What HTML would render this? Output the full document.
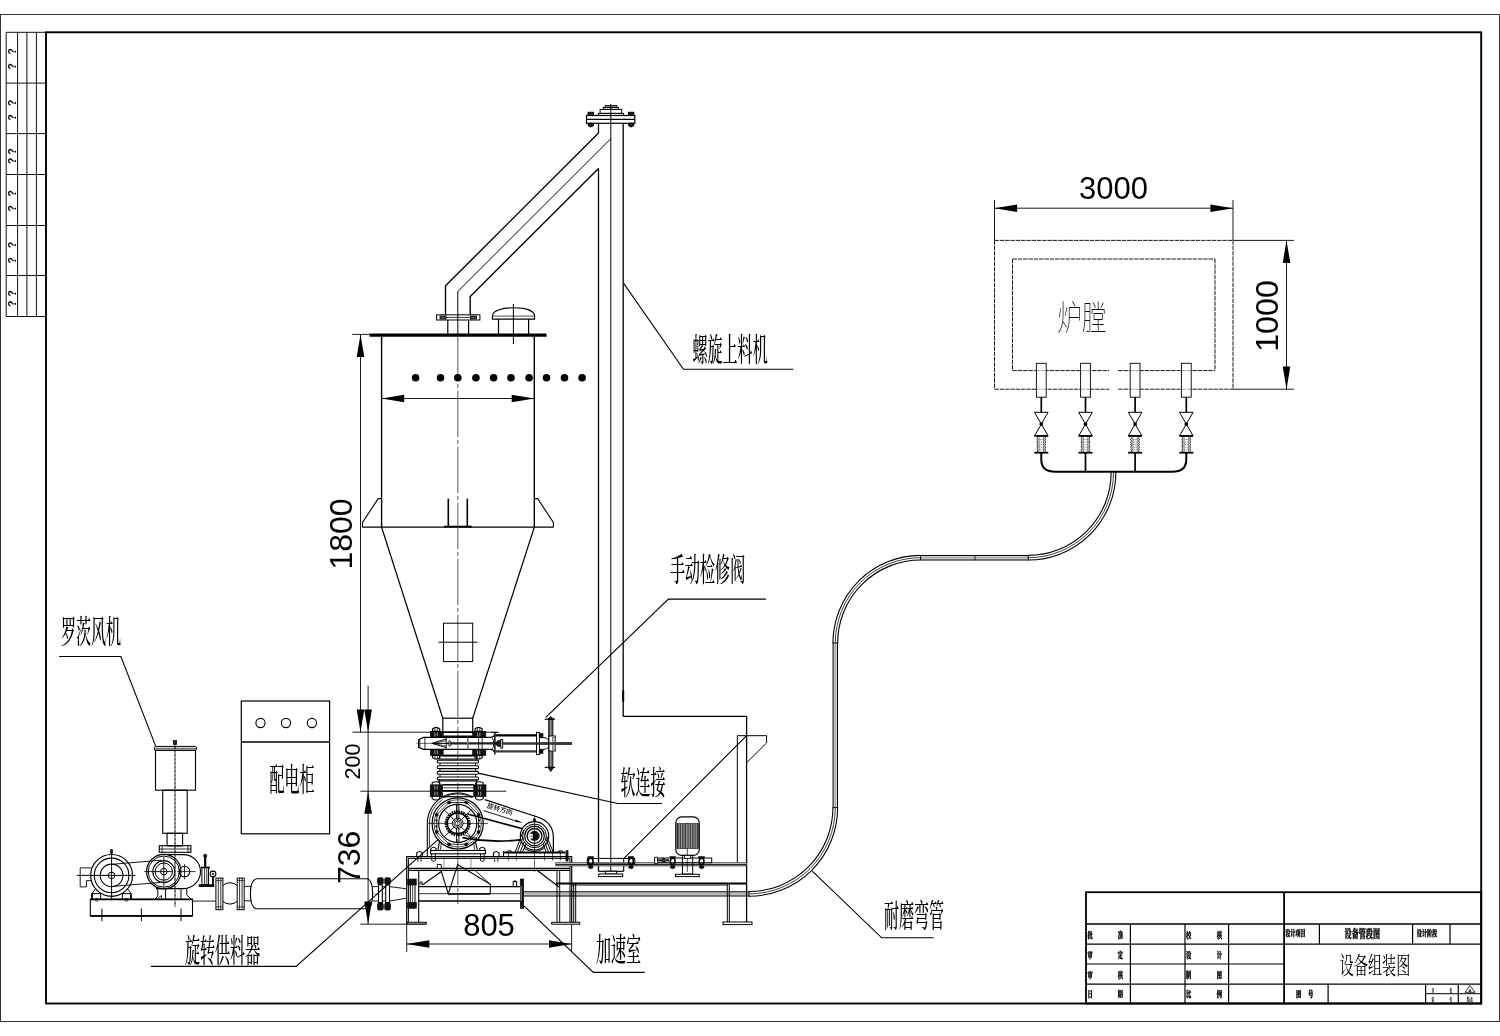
<!DOCTYPE html>
<html lang="zh"><head><meta charset="utf-8"><title>设备组装图</title>
<style>html,body{margin:0;padding:0;background:#fff}svg{display:block;will-change:transform}</style></head>
<body><svg width="1500" height="1036" viewBox="0 0 1500 1036">
<rect x="0" y="0" width="1500" height="1036" fill="#fff"/>
<g id="pipe">
<path d="M523.7,893.9 L749,893.9" fill="none" stroke="#000" stroke-width="5.4"/>
<path d="M523.7,893.9 L749,893.9" fill="none" stroke="#d4d4d4" stroke-width="3.4"/>
<path d="M523.7,893.9 L749,893.9" fill="none" stroke="#777" stroke-width="0.6"/>
<path d="M749,893.9 A86.3,86.3 0 0 0 835.3,807.6" fill="none" stroke="#000" stroke-width="5.8"/>
<path d="M749,893.9 A86.3,86.3 0 0 0 835.3,807.6" fill="none" stroke="#fff" stroke-width="3.6"/>
<path d="M749,893.9 A86.3,86.3 0 0 0 835.3,807.6" fill="none" stroke="#111" stroke-width="0.8"/>
<path d="M835.3,807.6 L835.3,643" fill="none" stroke="#000" stroke-width="5.4"/>
<path d="M835.3,807.6 L835.3,643" fill="none" stroke="#d4d4d4" stroke-width="3.4"/>
<path d="M835.3,807.6 L835.3,643" fill="none" stroke="#777" stroke-width="0.6"/>
<path d="M835.3,643 A85.3,85.3 0 0 1 920.6,557.7" fill="none" stroke="#000" stroke-width="5.8"/>
<path d="M835.3,643 A85.3,85.3 0 0 1 920.6,557.7" fill="none" stroke="#fff" stroke-width="3.6"/>
<path d="M835.3,643 A85.3,85.3 0 0 1 920.6,557.7" fill="none" stroke="#111" stroke-width="0.8"/>
<path d="M920.6,557.7 L1028.2,557.7" fill="none" stroke="#000" stroke-width="5.4"/>
<path d="M920.6,557.7 L1028.2,557.7" fill="none" stroke="#d4d4d4" stroke-width="3.4"/>
<path d="M920.6,557.7 L1028.2,557.7" fill="none" stroke="#777" stroke-width="0.6"/>
<line x1="975.0" y1="555.0" x2="975.0" y2="560.4" stroke="#000" stroke-width="0.8" />
<path d="M1028.2,557.7 A85.3,85.3 0 0 0 1113.5,472.4" fill="none" stroke="#000" stroke-width="5.8"/>
<path d="M1028.2,557.7 A85.3,85.3 0 0 0 1113.5,472.4" fill="none" stroke="#fff" stroke-width="3.6"/>
<path d="M1028.2,557.7 A85.3,85.3 0 0 0 1113.5,472.4" fill="none" stroke="#111" stroke-width="0.8"/>
<line x1="832.5" y1="807.6" x2="838.1" y2="807.6" stroke="#000" stroke-width="0.9" />
<line x1="832.5" y1="643.0" x2="838.1" y2="643.0" stroke="#000" stroke-width="0.9" />
<line x1="920.6" y1="555.0" x2="920.6" y2="560.4" stroke="#000" stroke-width="0.9" />
<line x1="1028.2" y1="555.0" x2="1028.2" y2="560.4" stroke="#000" stroke-width="0.9" />
<line x1="749.0" y1="891.2" x2="749.0" y2="896.6" stroke="#000" stroke-width="0.9" />
</g>
<g id="frame">
<rect x="0.5" y="14.5" width="1499.0" height="1007.0" stroke="#333" stroke-width="1" fill="none" />
<rect x="46.0" y="32.3" width="1435.2" height="971.2" stroke="#000" stroke-width="1.9" fill="none" />
<line x1="6.2" y1="32.3" x2="6.2" y2="316.5" stroke="#111" stroke-width="1" />
<line x1="17.6" y1="32.3" x2="17.6" y2="316.5" stroke="#111" stroke-width="1" />
<line x1="26.9" y1="32.3" x2="26.9" y2="316.5" stroke="#111" stroke-width="1" />
<line x1="36.4" y1="32.3" x2="36.4" y2="316.5" stroke="#111" stroke-width="1" />
<line x1="6.2" y1="83.1" x2="46.0" y2="83.1" stroke="#111" stroke-width="1" />
<line x1="6.2" y1="133.6" x2="46.0" y2="133.6" stroke="#111" stroke-width="1" />
<line x1="6.2" y1="174.5" x2="46.0" y2="174.5" stroke="#111" stroke-width="1" />
<line x1="6.2" y1="225.5" x2="46.0" y2="225.5" stroke="#111" stroke-width="1" />
<line x1="6.2" y1="275.5" x2="46.0" y2="275.5" stroke="#111" stroke-width="1" />
<line x1="6.2" y1="316.5" x2="46.0" y2="316.5" stroke="#111" stroke-width="1" />
<line x1="6.2" y1="32.3" x2="46.0" y2="32.3" stroke="#111" stroke-width="1" />
<text transform="translate(15.6,51.3) rotate(-90)" font-family='"Liberation Sans", "Noto Sans CJK SC", sans-serif' font-size="11" font-weight="700" text-anchor="middle" fill="#000" >?</text>
<text transform="translate(15.6,66.3) rotate(-90)" font-family='"Liberation Sans", "Noto Sans CJK SC", sans-serif' font-size="11" font-weight="700" text-anchor="middle" fill="#000" >?</text>
<text transform="translate(15.6,103.0) rotate(-90)" font-family='"Liberation Sans", "Noto Sans CJK SC", sans-serif' font-size="11" font-weight="700" text-anchor="middle" fill="#000" >?</text>
<text transform="translate(15.6,117.5) rotate(-90)" font-family='"Liberation Sans", "Noto Sans CJK SC", sans-serif' font-size="11" font-weight="700" text-anchor="middle" fill="#000" >?</text>
<text transform="translate(15.6,151.5) rotate(-90)" font-family='"Liberation Sans", "Noto Sans CJK SC", sans-serif' font-size="11" font-weight="700" text-anchor="middle" fill="#000" >?</text>
<text transform="translate(15.6,161.0) rotate(-90)" font-family='"Liberation Sans", "Noto Sans CJK SC", sans-serif' font-size="11" font-weight="700" text-anchor="middle" fill="#000" >?</text>
<text transform="translate(15.6,193.3) rotate(-90)" font-family='"Liberation Sans", "Noto Sans CJK SC", sans-serif' font-size="11" font-weight="700" text-anchor="middle" fill="#000" >?</text>
<text transform="translate(15.6,208.3) rotate(-90)" font-family='"Liberation Sans", "Noto Sans CJK SC", sans-serif' font-size="11" font-weight="700" text-anchor="middle" fill="#000" >?</text>
<text transform="translate(15.6,244.9) rotate(-90)" font-family='"Liberation Sans", "Noto Sans CJK SC", sans-serif' font-size="11" font-weight="700" text-anchor="middle" fill="#000" >?</text>
<text transform="translate(15.6,260.3) rotate(-90)" font-family='"Liberation Sans", "Noto Sans CJK SC", sans-serif' font-size="11" font-weight="700" text-anchor="middle" fill="#000" >?</text>
<text transform="translate(15.6,293.3) rotate(-90)" font-family='"Liberation Sans", "Noto Sans CJK SC", sans-serif' font-size="11" font-weight="700" text-anchor="middle" fill="#000" >?</text>
<text transform="translate(15.6,303.7) rotate(-90)" font-family='"Liberation Sans", "Noto Sans CJK SC", sans-serif' font-size="11" font-weight="700" text-anchor="middle" fill="#000" >?</text>
</g>
<g id="title">
<rect x="1086.0" y="892.2" width="395.2" height="111.3" stroke="#000" stroke-width="1.8" fill="none" />
<line x1="1284.1" y1="892.2" x2="1284.1" y2="1003.5" stroke="#000" stroke-width="1.8" />
<line x1="1086.0" y1="924.0" x2="1481.2" y2="924.0" stroke="#000" stroke-width="1.4" />
<line x1="1086.0" y1="944.1" x2="1284.1" y2="944.1" stroke="#000" stroke-width="1.2" />
<line x1="1086.0" y1="964.0" x2="1284.1" y2="964.0" stroke="#000" stroke-width="1.2" />
<line x1="1086.0" y1="984.1" x2="1284.1" y2="984.1" stroke="#000" stroke-width="1.2" />
<line x1="1284.1" y1="944.1" x2="1481.2" y2="944.1" stroke="#000" stroke-width="1.2" />
<line x1="1284.1" y1="984.1" x2="1481.2" y2="984.1" stroke="#000" stroke-width="1.2" />
<line x1="1130.4" y1="924.0" x2="1130.4" y2="1003.5" stroke="#000" stroke-width="1.2" />
<line x1="1185.0" y1="924.0" x2="1185.0" y2="1003.5" stroke="#000" stroke-width="1.2" />
<line x1="1228.6" y1="924.0" x2="1228.6" y2="1003.5" stroke="#000" stroke-width="1.2" />
<line x1="1319.4" y1="924.0" x2="1319.4" y2="944.1" stroke="#000" stroke-width="1.2" />
<line x1="1412.6" y1="924.0" x2="1412.6" y2="944.1" stroke="#000" stroke-width="1.2" />
<line x1="1450.0" y1="924.0" x2="1450.0" y2="944.1" stroke="#000" stroke-width="1.2" />
<line x1="1328.1" y1="984.1" x2="1328.1" y2="1003.5" stroke="#000" stroke-width="1.2" />
<line x1="1425.6" y1="984.1" x2="1425.6" y2="1003.5" stroke="#000" stroke-width="1.2" />
<line x1="1458.3" y1="984.1" x2="1458.3" y2="1003.5" stroke="#000" stroke-width="1.2" />
<line x1="1425.6" y1="993.7" x2="1481.2" y2="993.7" stroke="#000" stroke-width="1" />
<text transform="translate(1087.4,937.7) scale(0.62,1)" font-family='"Liberation Serif", "Noto Serif CJK SC", serif' font-size="8.5" font-weight="900" text-anchor="start" fill="#000" stroke="#000" stroke-width="0.35" letter-spacing="40.3">批准</text>
<text transform="translate(1186.1,937.7) scale(0.62,1)" font-family='"Liberation Serif", "Noto Serif CJK SC", serif' font-size="8.5" font-weight="900" text-anchor="start" fill="#000" stroke="#000" stroke-width="0.35" letter-spacing="40.9">校核</text>
<text transform="translate(1087.4,957.7) scale(0.62,1)" font-family='"Liberation Serif", "Noto Serif CJK SC", serif' font-size="8.5" font-weight="900" text-anchor="start" fill="#000" stroke="#000" stroke-width="0.35" letter-spacing="40.3">审定</text>
<text transform="translate(1186.1,957.7) scale(0.62,1)" font-family='"Liberation Serif", "Noto Serif CJK SC", serif' font-size="8.5" font-weight="900" text-anchor="start" fill="#000" stroke="#000" stroke-width="0.35" letter-spacing="40.9">设计</text>
<text transform="translate(1087.4,977.5) scale(0.62,1)" font-family='"Liberation Serif", "Noto Serif CJK SC", serif' font-size="8.5" font-weight="900" text-anchor="start" fill="#000" stroke="#000" stroke-width="0.35" letter-spacing="40.3">审核</text>
<text transform="translate(1186.1,977.5) scale(0.62,1)" font-family='"Liberation Serif", "Noto Serif CJK SC", serif' font-size="8.5" font-weight="900" text-anchor="start" fill="#000" stroke="#000" stroke-width="0.35" letter-spacing="40.9">制图</text>
<text transform="translate(1087.4,997.2) scale(0.62,1)" font-family='"Liberation Serif", "Noto Serif CJK SC", serif' font-size="8.5" font-weight="900" text-anchor="start" fill="#000" stroke="#000" stroke-width="0.35" letter-spacing="40.3">日期</text>
<text transform="translate(1186.1,997.2) scale(0.62,1)" font-family='"Liberation Serif", "Noto Serif CJK SC", serif' font-size="8.5" font-weight="900" text-anchor="start" fill="#000" stroke="#000" stroke-width="0.35" letter-spacing="40.9">比例</text>
<text transform="translate(1295.5,936.3) scale(0.6,1)" font-family='"Liberation Serif", "Noto Serif CJK SC", serif' font-size="8.5" font-weight="900" text-anchor="middle" fill="#000" stroke="#000" stroke-width="0.35">设计项目</text>
<text transform="translate(1362.3,938.0) scale(0.62,1)" font-family='"Liberation Serif", "Noto Serif CJK SC", serif' font-size="11.5" font-weight="900" text-anchor="middle" fill="#000" stroke="#000" stroke-width="0.35">设备管段图</text>
<text transform="translate(1427.0,936.3) scale(0.6,1)" font-family='"Liberation Serif", "Noto Serif CJK SC", serif' font-size="8.5" font-weight="900" text-anchor="middle" fill="#000" stroke="#000" stroke-width="0.35">设计阶段</text>
<text transform="translate(1375.0,973.5) scale(0.6,1)" font-family='"Liberation Serif", "Noto Serif CJK SC", serif' font-size="23.5" font-weight="400" text-anchor="middle" fill="#000" >设备组装图</text>
<text transform="translate(1295.9,997.0) scale(0.62,1)" font-family='"Liberation Serif", "Noto Serif CJK SC", serif' font-size="8.5" font-weight="900" text-anchor="start" fill="#000" stroke="#000" stroke-width="0.35" letter-spacing="10.9">图号</text>
<text transform="translate(1431.6,991.5) scale(0.6,1)" font-family='"Liberation Serif", "Noto Serif CJK SC", serif' font-size="4.5" font-weight="900" text-anchor="start" fill="#000" letter-spacing="25.5">共张</text>
<text transform="translate(1431.6,1001.0) scale(0.6,1)" font-family='"Liberation Serif", "Noto Serif CJK SC", serif' font-size="4.5" font-weight="900" text-anchor="start" fill="#000" letter-spacing="25.5">第张</text>
<text transform="translate(1470.0,1001.0) scale(0.7,1)" font-family='"Liberation Serif", "Noto Serif CJK SC", serif' font-size="4.5" font-weight="900" text-anchor="middle" fill="#000" >版次</text>
<path d="M1465.0,992.3 L1475.0,992.3 L1470.0,985.6 Z" stroke="#000" stroke-width="0.8" fill="none" />
<text transform="translate(1470.0,991.6)" font-family='"Liberation Sans", "Noto Sans CJK SC", sans-serif' font-size="4" font-weight="700" text-anchor="middle" fill="#000" >A</text>
</g>
<g id="screw">
<rect x="586.5" y="115.5" width="48.3" height="7.8" stroke="#000" stroke-width="1.2" fill="none" />
<line x1="586.5" y1="119.3" x2="634.8" y2="119.3" stroke="#000" stroke-width="1.2" />
<rect x="588.1" y="112.3" width="5.4" height="3.2" stroke="#000" stroke-width="1" fill="#222" />
<path d="M588.1,123.3 L588.1,125.5 Q590.8000000000001,128.5 593.5,125.5 L593.5,123.3 Z" stroke="#000" stroke-width="1" fill="#222" />
<rect x="628.4" y="112.3" width="5.4" height="3.2" stroke="#000" stroke-width="1" fill="#222" />
<path d="M628.4,123.3 L628.4,125.5 Q631.1,128.5 633.8,125.5 L633.8,123.3 Z" stroke="#000" stroke-width="1" fill="#222" />
<rect x="598.3" y="113.4" width="25.3" height="2.1" stroke="#000" stroke-width="1" fill="none" />
<rect x="600.1" y="109.4" width="21.6" height="4.0" stroke="#000" stroke-width="1" fill="none" />
<rect x="603.3" y="107.4" width="15.2" height="2.0" stroke="#000" stroke-width="1" fill="none" />
<rect x="605.2" y="105.4" width="11.5" height="2.0" stroke="#000" stroke-width="0.8" fill="#888" />
<line x1="598.5" y1="123.3" x2="598.5" y2="133.0" stroke="#000" stroke-width="1.3" />
<line x1="598.5" y1="168.4" x2="598.5" y2="871.3" stroke="#000" stroke-width="1.3" />
<line x1="623.2" y1="123.3" x2="623.2" y2="716.4" stroke="#000" stroke-width="1.3" />
<line x1="610.8" y1="104.0" x2="610.8" y2="871.3" stroke="#000" stroke-width="1.0" />
<line x1="623.2" y1="690.0" x2="623.2" y2="702.0" stroke="#000" stroke-width="2" />
<path d="M598.5,133.0 L445.5,285.8 L445.5,314.8" stroke="#000" stroke-width="1.4" fill="none" />
<path d="M610.8,138.7 L457.8,291.5 L457.8,335.0" stroke="#000" stroke-width="1.0" fill="none" />
<path d="M598.5,168.4 L470.2,296.5 L470.2,314.8" stroke="#000" stroke-width="1.4" fill="none" />
<rect x="436.6" y="314.8" width="43.3" height="5.2" stroke="#000" stroke-width="1" fill="none" />
<rect x="440.0" y="316.0" width="6.0" height="3.0" stroke="#000" stroke-width="0.8" fill="#555" />
<rect x="470.5" y="316.0" width="6.0" height="3.0" stroke="#000" stroke-width="0.8" fill="#555" />
<line x1="446.0" y1="317.4" x2="470.5" y2="317.4" stroke="#000" stroke-width="0.8" />
<line x1="447.8" y1="320.0" x2="447.8" y2="335.0" stroke="#000" stroke-width="1.2" />
<line x1="468.6" y1="320.0" x2="468.6" y2="335.0" stroke="#000" stroke-width="1.2" />
<path d="M492.4,319.1 L492.4,316 C492.6,310 503,307.8 513.4,307.8 C524,307.8 534.4,310 534.6,316 L534.6,319.1 Z" stroke="#000" stroke-width="1.1" fill="none" />
<line x1="492.4" y1="316.1" x2="534.6" y2="316.1" stroke="#000" stroke-width="0.7" />
<line x1="498.5" y1="319.1" x2="498.5" y2="335.0" stroke="#000" stroke-width="1.2" />
<line x1="528.6" y1="319.1" x2="528.6" y2="335.0" stroke="#000" stroke-width="1.2" />
<line x1="513.4" y1="304.0" x2="513.4" y2="344.0" stroke="#000" stroke-width="1.0" />
</g>
<g id="tank">
<line x1="369.5" y1="335.1" x2="546.5" y2="335.1" stroke="#000" stroke-width="3.3" />
<line x1="381.6" y1="335.3" x2="381.6" y2="527.3" stroke="#000" stroke-width="1.4" />
<line x1="534.3" y1="335.3" x2="534.3" y2="527.3" stroke="#000" stroke-width="1.4" />
<line x1="362.5" y1="527.2" x2="553.4" y2="527.2" stroke="#000" stroke-width="1.2" />
<path d="M381.6,498.6 L378.2,498.6 L362.5,522.5 L362.5,527.2" stroke="#000" stroke-width="1.1" fill="none" />
<path d="M534.3,498.6 L537.7,498.6 L553.4,522.5 L553.4,527.2" stroke="#000" stroke-width="1.1" fill="none" />
<line x1="448.3" y1="498.6" x2="448.3" y2="527.2" stroke="#000" stroke-width="1.6" />
<line x1="467.3" y1="498.6" x2="467.3" y2="527.2" stroke="#000" stroke-width="1.6" />
<line x1="443.9" y1="526.6" x2="471.7" y2="526.6" stroke="#000" stroke-width="1.8" />
<line x1="381.6" y1="527.2" x2="442.8" y2="718.2" stroke="#000" stroke-width="1.2" />
<line x1="534.3" y1="527.2" x2="472.7" y2="718.2" stroke="#000" stroke-width="1.2" />
<rect x="442.8" y="718.2" width="29.9" height="14.1" stroke="#000" stroke-width="1.2" fill="none" />
<line x1="457.8" y1="335.0" x2="457.8" y2="904.0" stroke="#333" stroke-width="0.8" stroke-dasharray="46 3 4 3"/>
<rect x="443.5" y="623.2" width="29.2" height="38.4" stroke="#000" stroke-width="1" fill="none" />
<line x1="438.4" y1="642.2" x2="477.6" y2="642.2" stroke="#000" stroke-width="1.0" />
<circle cx="415.6" cy="377.8" r="3.8" stroke="#000" stroke-width="0" fill="#000" />
<circle cx="440.5" cy="377.8" r="3.8" stroke="#000" stroke-width="0" fill="#000" />
<circle cx="457.8" cy="377.8" r="3.8" stroke="#000" stroke-width="0" fill="#000" />
<circle cx="475.9" cy="377.8" r="3.8" stroke="#000" stroke-width="0" fill="#000" />
<circle cx="493.6" cy="377.8" r="3.8" stroke="#000" stroke-width="0" fill="#000" />
<circle cx="511.0" cy="377.8" r="3.8" stroke="#000" stroke-width="0" fill="#000" />
<circle cx="529.1" cy="377.8" r="3.8" stroke="#000" stroke-width="0" fill="#000" />
<circle cx="546.5" cy="377.8" r="3.8" stroke="#000" stroke-width="0" fill="#000" />
<circle cx="564.5" cy="377.8" r="3.8" stroke="#000" stroke-width="0" fill="#000" />
<circle cx="582.1" cy="377.8" r="3.8" stroke="#000" stroke-width="0" fill="#000" />
<line x1="381.6" y1="398.5" x2="534.3" y2="398.5" stroke="#000" stroke-width="0.9" />
<path d="M381.6,398.5 L404.2,394.7 L404.2,402.3 Z" fill="#000" stroke="none"/>
<path d="M534.3,398.5 L511.7,402.3 L511.7,394.7 Z" fill="#000" stroke="none"/>
</g>
<g id="dims">
<line x1="352.2" y1="334.4" x2="369.5" y2="334.4" stroke="#000" stroke-width="0.9" />
<line x1="360.5" y1="334.5" x2="360.5" y2="732.2" stroke="#000" stroke-width="0.9" />
<path d="M360.5,334.5 L364.3,357.1 L356.7,357.1 Z" fill="#000" stroke="none"/>
<path d="M360.5,732.2 L356.7,709.6 L364.3,709.6 Z" fill="#000" stroke="none"/>
<text transform="translate(352.4,534.0) rotate(-90)" font-family='"Liberation Sans", sans-serif' font-size="32" font-weight="400" text-anchor="middle" fill="#000" >1800</text>
<line x1="352.6" y1="732.2" x2="497.8" y2="732.2" stroke="#000" stroke-width="0.9" />
<line x1="360.3" y1="791.2" x2="506.3" y2="791.2" stroke="#000" stroke-width="0.9" />
<line x1="368.1" y1="685.7" x2="368.1" y2="924.0" stroke="#000" stroke-width="0.9" />
<path d="M368.1,732.2 L364.3,709.6 L371.9,709.6 Z" fill="#000" stroke="none"/>
<path d="M368.1,791.2 L371.9,813.8 L364.3,813.8 Z" fill="#000" stroke="none"/>
<path d="M368.1,924.0 L364.3,901.4 L371.9,901.4 Z" fill="#000" stroke="none"/>
<text transform="translate(360.3,761.5) rotate(-90)" font-family='"Liberation Sans", sans-serif' font-size="21.5" font-weight="400" text-anchor="middle" fill="#000" >200</text>
<text transform="translate(359.8,857.4) rotate(-90)" font-family='"Liberation Sans", sans-serif' font-size="32" font-weight="400" text-anchor="middle" fill="#000" >736</text>
<line x1="360.4" y1="924.2" x2="426.0" y2="924.2" stroke="#000" stroke-width="0.9" />
<line x1="406.7" y1="924.0" x2="406.7" y2="952.0" stroke="#000" stroke-width="0.9" />
<line x1="571.6" y1="924.0" x2="571.6" y2="952.0" stroke="#000" stroke-width="0.9" />
<line x1="406.7" y1="944.0" x2="571.6" y2="944.0" stroke="#000" stroke-width="0.9" />
<path d="M406.7,944.0 L429.3,940.2 L429.3,947.8 Z" fill="#000" stroke="none"/>
<path d="M571.6,944.0 L549.0,947.8 L549.0,940.2 Z" fill="#000" stroke="none"/>
<text transform="translate(489.0,935.8)" font-family='"Liberation Sans", sans-serif' font-size="31" font-weight="400" text-anchor="middle" fill="#000" >805</text>
</g>
<g id="valve">
<line x1="430.0" y1="732.3" x2="486.0" y2="732.3" stroke="#000" stroke-width="1.5" />
<line x1="443.0" y1="736.5" x2="472.8" y2="736.5" stroke="#000" stroke-width="2" />
<rect x="430.3" y="731.4" width="12.9" height="6.0" stroke="#000" stroke-width="0.6" fill="#111" />
<rect x="430.3" y="749.4" width="12.9" height="6.0" stroke="#000" stroke-width="0.6" fill="#111" />
<line x1="434.9" y1="732.6" x2="434.9" y2="736.6" stroke="#fff" stroke-width="0.6" />
<line x1="437.3" y1="732.6" x2="437.3" y2="736.6" stroke="#fff" stroke-width="0.6" />
<line x1="434.9" y1="750.4" x2="434.9" y2="754.4" stroke="#fff" stroke-width="0.6" />
<line x1="437.3" y1="750.4" x2="437.3" y2="754.4" stroke="#fff" stroke-width="0.6" />
<path d="M432.54999999999995,731.4 L432.54999999999995,729 Q436.15,725.8 439.75,729 L439.75,731.4 Z" stroke="#000" stroke-width="1.2" fill="#fff" />
<line x1="434.9" y1="727.6" x2="434.9" y2="731.4" stroke="#000" stroke-width="0.8" />
<line x1="437.3" y1="727.6" x2="437.3" y2="731.4" stroke="#000" stroke-width="0.8" />
<path d="M432.54999999999995,755.4 L432.54999999999995,757.6 Q436.15,760.6 439.75,757.6 L439.75,755.4 Z" stroke="#000" stroke-width="1.2" fill="#fff" />
<line x1="434.9" y1="755.4" x2="434.9" y2="758.8" stroke="#000" stroke-width="0.8" />
<line x1="437.3" y1="755.4" x2="437.3" y2="758.8" stroke="#000" stroke-width="0.8" />
<rect x="472.6" y="731.4" width="13.2" height="6.0" stroke="#000" stroke-width="0.6" fill="#111" />
<rect x="472.6" y="749.4" width="13.2" height="6.0" stroke="#000" stroke-width="0.6" fill="#111" />
<line x1="477.4" y1="732.6" x2="477.4" y2="736.6" stroke="#fff" stroke-width="0.6" />
<line x1="479.8" y1="732.6" x2="479.8" y2="736.6" stroke="#fff" stroke-width="0.6" />
<line x1="477.4" y1="750.4" x2="477.4" y2="754.4" stroke="#fff" stroke-width="0.6" />
<line x1="479.8" y1="750.4" x2="479.8" y2="754.4" stroke="#fff" stroke-width="0.6" />
<path d="M475.0,731.4 L475.0,729 Q478.6,725.8 482.20000000000005,729 L482.20000000000005,731.4 Z" stroke="#000" stroke-width="1.2" fill="#fff" />
<line x1="477.4" y1="727.6" x2="477.4" y2="731.4" stroke="#000" stroke-width="0.8" />
<line x1="479.8" y1="727.6" x2="479.8" y2="731.4" stroke="#000" stroke-width="0.8" />
<path d="M475.0,755.4 L475.0,757.6 Q478.6,760.6 482.20000000000005,757.6 L482.20000000000005,755.4 Z" stroke="#000" stroke-width="1.2" fill="#fff" />
<line x1="477.4" y1="755.4" x2="477.4" y2="758.8" stroke="#000" stroke-width="0.8" />
<line x1="479.8" y1="755.4" x2="479.8" y2="758.8" stroke="#000" stroke-width="0.8" />
<path d="M489.4,737.4 L423.4,737.4 L418.6,739.8 L418.6,747.3 L423.4,749.4 L489.4,749.4" stroke="#000" stroke-width="1.2" fill="none" />
<line x1="419.8" y1="739.4" x2="419.8" y2="747.7" stroke="#000" stroke-width="0.8" />
<line x1="424.9" y1="737.4" x2="424.9" y2="749.4" stroke="#000" stroke-width="0.8" />
<line x1="416.5" y1="743.4" x2="431.8" y2="743.4" stroke="#000" stroke-width="0.6" />
<line x1="449.6" y1="743.4" x2="503.0" y2="743.4" stroke="#222" stroke-width="2.4" />
<line x1="431.8" y1="743.4" x2="449.6" y2="743.4" stroke="#222" stroke-width="1.2" />
<path d="M446.2,738.9 L431.8,743.4 L446.2,747.6" stroke="#000" stroke-width="0.9" fill="none" />
<path d="M446.2,740.6 L433.5,743.4 L446.2,746.2" stroke="#000" stroke-width="0.7" fill="none" />
<line x1="446.2" y1="737.4" x2="446.2" y2="749.4" stroke="#000" stroke-width="0.9" />
<path d="M447.4,743.4 L449.6,740.4 L451.9,743.4 L449.6,746.4 Z" stroke="#000" stroke-width="0.9" fill="none" />
<line x1="467.8" y1="737.4" x2="467.8" y2="749.4" stroke="#777" stroke-width="1.6" />
<line x1="478.6" y1="737.4" x2="478.6" y2="749.4" stroke="#000" stroke-width="0.8" />
<line x1="482.2" y1="737.4" x2="482.2" y2="749.4" stroke="#000" stroke-width="0.8" />
<line x1="443.0" y1="755.4" x2="473.0" y2="755.4" stroke="#000" stroke-width="1.6" />
<path d="M489.4,737.4 Q493.5,737.6 494.6,735 M489.4,749.4 Q493.5,749.2 494.6,752.2" stroke="#000" stroke-width="1.1" fill="none" />
<path d="M492,737.8 Q494.6,740 493.4,743 M492,749 Q494.6,746.8 493.4,744" stroke="#000" stroke-width="0.9" fill="none" />
<line x1="494.9" y1="732.6" x2="494.9" y2="754.4" stroke="#000" stroke-width="1.4" />
<line x1="491.0" y1="732.4" x2="498.6" y2="732.4" stroke="#000" stroke-width="0.9" />
<circle cx="499.4" cy="743.5" r="3.0" stroke="#000" stroke-width="1" fill="#222" />
<rect x="500.8" y="739.6" width="1.9" height="8.5" stroke="#000" stroke-width="0.9" fill="#fff" />
<line x1="495.4" y1="735.3" x2="536.5" y2="735.3" stroke="#000" stroke-width="2.2" />
<line x1="495.4" y1="751.4" x2="536.5" y2="751.4" stroke="#3a3a3a" stroke-width="2.3" />
<line x1="503.0" y1="743.5" x2="571.9" y2="743.5" stroke="#3a3a3a" stroke-width="2.6" />
<rect x="536.5" y="732.4" width="2.9" height="22.2" stroke="#000" stroke-width="1" fill="#fff" />
<rect x="539.4" y="733.6" width="3.6" height="3.2" stroke="#000" stroke-width="0.6" fill="#111" />
<rect x="539.4" y="750.0" width="3.6" height="3.3" stroke="#000" stroke-width="0.6" fill="#111" />
<path d="M539.4,737.6 L544,737.6 Q547,738 548.6,740 M539.4,749.4 L544,749.4 Q547,749 548.6,747" stroke="#000" stroke-width="1" fill="none" />
<line x1="536.5" y1="743.5" x2="571.9" y2="743.5" stroke="#3a3a3a" stroke-width="2.6" />
<rect x="548.7" y="719.2" width="4.2" height="48.2" stroke="#000" stroke-width="0.8" fill="#555" />
<line x1="550.8" y1="719.2" x2="550.8" y2="767.4" stroke="#ddd" stroke-width="0.6" />
<line x1="544.7" y1="719.2" x2="555.0" y2="719.2" stroke="#000" stroke-width="1.2" />
<line x1="544.7" y1="767.4" x2="555.0" y2="767.4" stroke="#000" stroke-width="1.2" />
<path d="M548.0,719.2 L550.8,716.4 L553.6,719.2 Z" stroke="#000" stroke-width="0.8" fill="#222" />
<path d="M548.0,767.4 L550.8,771.6 L553.6,767.4 Z" stroke="#000" stroke-width="0.8" fill="#222" />
<rect x="549.0" y="736.0" width="6.4" height="15.0" stroke="#000" stroke-width="0.9" fill="#fff" />
<rect x="552.4" y="737.5" width="3.0" height="12.0" stroke="#666" stroke-width="0.6" fill="#aaa" />
<line x1="549.0" y1="743.5" x2="571.9" y2="743.5" stroke="#3a3a3a" stroke-width="2.6" />
</g>
<g id="bellows">
<rect x="439.6" y="756.0" width="36.9" height="3.0" stroke="#000" stroke-width="1" fill="none" />
<rect x="437.2" y="760.15" width="41.4" height="2.9" rx="1.45" ry="1.45" fill="#fff" stroke="#000" stroke-width="1.1"/>
<rect x="437.2" y="765.75" width="41.4" height="2.9" rx="1.45" ry="1.45" fill="#fff" stroke="#000" stroke-width="1.1"/>
<rect x="437.2" y="771.35" width="41.4" height="2.9" rx="1.45" ry="1.45" fill="#fff" stroke="#000" stroke-width="1.1"/>
<rect x="437.2" y="776.95" width="41.4" height="2.9" rx="1.45" ry="1.45" fill="#fff" stroke="#000" stroke-width="1.1"/>
<line x1="440.0" y1="763.1" x2="440.0" y2="765.7" stroke="#000" stroke-width="0.9" />
<line x1="475.6" y1="763.1" x2="475.6" y2="765.7" stroke="#000" stroke-width="0.9" />
<line x1="440.0" y1="768.7" x2="440.0" y2="771.3" stroke="#000" stroke-width="0.9" />
<line x1="475.6" y1="768.7" x2="475.6" y2="771.3" stroke="#000" stroke-width="0.9" />
<line x1="440.0" y1="774.3" x2="440.0" y2="776.9" stroke="#000" stroke-width="0.9" />
<line x1="475.6" y1="774.3" x2="475.6" y2="776.9" stroke="#000" stroke-width="0.9" />
<line x1="437.6" y1="781.0" x2="478.2" y2="781.0" stroke="#000" stroke-width="1.1" />
<line x1="439.6" y1="780.2" x2="439.6" y2="784.8" stroke="#000" stroke-width="1" />
<line x1="476.5" y1="780.2" x2="476.5" y2="784.8" stroke="#000" stroke-width="1" />
</g>
<g id="rotary">
<rect x="430.2" y="784.8" width="12.3" height="11.9" stroke="#000" stroke-width="0.6" fill="#111" />
<line x1="434.8" y1="785.8" x2="434.8" y2="789.6" stroke="#fff" stroke-width="0.6" />
<line x1="437.2" y1="785.8" x2="437.2" y2="789.6" stroke="#fff" stroke-width="0.6" />
<line x1="434.8" y1="791.8" x2="434.8" y2="795.6" stroke="#fff" stroke-width="0.6" />
<line x1="437.2" y1="791.8" x2="437.2" y2="795.6" stroke="#fff" stroke-width="0.6" />
<path d="M432.15000000000003,784.8 L432.15000000000003,783 Q435.95000000000005,780.6 439.75000000000006,783 L439.75000000000006,784.8" stroke="#000" stroke-width="1.1" fill="none" />
<path d="M432.15000000000003,796.7 L432.15000000000003,798.6 Q435.95000000000005,801.4 439.75000000000006,798.6 L439.75000000000006,796.7" stroke="#000" stroke-width="1.1" fill="none" />
<rect x="473.7" y="784.8" width="12.3" height="11.9" stroke="#000" stroke-width="0.6" fill="#111" />
<line x1="478.3" y1="785.8" x2="478.3" y2="789.6" stroke="#fff" stroke-width="0.6" />
<line x1="480.7" y1="785.8" x2="480.7" y2="789.6" stroke="#fff" stroke-width="0.6" />
<line x1="478.3" y1="791.8" x2="478.3" y2="795.6" stroke="#fff" stroke-width="0.6" />
<line x1="480.7" y1="791.8" x2="480.7" y2="795.6" stroke="#fff" stroke-width="0.6" />
<path d="M475.65000000000003,784.8 L475.65000000000003,783 Q479.45000000000005,780.6 483.25000000000006,783 L483.25000000000006,784.8" stroke="#000" stroke-width="1.1" fill="none" />
<path d="M475.65000000000003,796.7 L475.65000000000003,798.6 Q479.45000000000005,801.4 483.25000000000006,798.6 L483.25000000000006,796.7" stroke="#000" stroke-width="1.1" fill="none" />
<line x1="442.5" y1="784.8" x2="473.7" y2="784.8" stroke="#000" stroke-width="1.5" />
<line x1="442.5" y1="790.8" x2="473.7" y2="790.8" stroke="#000" stroke-width="1.6" />
<line x1="442.5" y1="796.7" x2="473.7" y2="796.7" stroke="#000" stroke-width="1.2" />
<line x1="442.5" y1="787.8" x2="473.7" y2="787.8" stroke="#000" stroke-width="0.7" />
<path d="M427.3,823.4 A30.4,30.4 0 0 1 472.9,797.1" stroke="#000" stroke-width="1.1" fill="none" />
<path d="M429.4,825.9 A28.4,28.4 0 0 1 442.7,799.3" stroke="#000" stroke-width="0.8" fill="none" />
<line x1="427.3" y1="823.4" x2="427.3" y2="846.4" stroke="#000" stroke-width="1.1" />
<line x1="429.4" y1="826.0" x2="429.4" y2="846.4" stroke="#000" stroke-width="0.8" />
<path d="M443.4,797.6 A29.5,29.5 0 0 1 472.0,797.6" stroke="#000" stroke-width="0.8" fill="none" />
<circle cx="457.7" cy="823.4" r="25.6" stroke="#000" stroke-width="1.2" fill="none" />
<circle cx="457.7" cy="823.4" r="23.6" stroke="#000" stroke-width="0.7" fill="none" />
<circle cx="457.7" cy="823.4" r="19.1" stroke="#000" stroke-width="1.2" fill="none" />
<circle cx="457.7" cy="823.4" r="11.6" stroke="#000" stroke-width="2.8" fill="none" stroke-dasharray="1.6 0.7"/>
<circle cx="457.7" cy="823.4" r="10.4" stroke="#000" stroke-width="1.4" fill="none" />
<circle cx="457.7" cy="823.4" r="5.3" stroke="#000" stroke-width="1" fill="none" />
<circle cx="457.7" cy="823.4" r="3.9" stroke="#000" stroke-width="0.8" fill="none" />
<circle cx="457.7" cy="823.4" r="2.4" stroke="#000" stroke-width="0.8" fill="none" />
<circle cx="478.6" cy="832.0" r="1.6" stroke="#000" stroke-width="0.5" fill="#111" />
<circle cx="466.3" cy="844.3" r="1.6" stroke="#000" stroke-width="0.5" fill="#111" />
<circle cx="449.1" cy="844.3" r="1.6" stroke="#000" stroke-width="0.5" fill="#111" />
<circle cx="436.8" cy="832.0" r="1.6" stroke="#000" stroke-width="0.5" fill="#111" />
<circle cx="436.8" cy="814.8" r="1.6" stroke="#000" stroke-width="0.5" fill="#111" />
<circle cx="449.1" cy="802.5" r="1.6" stroke="#000" stroke-width="0.5" fill="#111" />
<circle cx="466.3" cy="802.5" r="1.6" stroke="#000" stroke-width="0.5" fill="#111" />
<circle cx="478.6" cy="814.8" r="1.6" stroke="#000" stroke-width="0.5" fill="#111" />
<path d="M478.6,832.0 L466.3,844.3 L449.1,844.3 L436.8,832.0 L436.8,814.8 L449.1,802.5 L466.3,802.5 L478.6,814.8 Z" stroke="#000" stroke-width="0.8" fill="none" />
<circle cx="479.1" cy="826.4" r="0.9" stroke="#000" stroke-width="0.4" fill="#111" />
<circle cx="479.1" cy="820.4" r="0.9" stroke="#000" stroke-width="0.4" fill="#111" />
<circle cx="436.3" cy="826.4" r="0.9" stroke="#000" stroke-width="0.4" fill="#111" />
<circle cx="436.3" cy="820.4" r="0.9" stroke="#000" stroke-width="0.4" fill="#111" />
<line x1="461.4" y1="827.1" x2="471.1" y2="836.8" stroke="#000" stroke-width="0.9" />
<line x1="454.0" y1="827.1" x2="444.3" y2="836.8" stroke="#000" stroke-width="0.9" />
<line x1="454.0" y1="819.7" x2="444.3" y2="810.0" stroke="#000" stroke-width="0.9" />
<line x1="461.4" y1="819.7" x2="471.1" y2="810.0" stroke="#000" stroke-width="0.9" />
<line x1="456.5" y1="804.4" x2="456.5" y2="818.2" stroke="#000" stroke-width="0.9" />
<line x1="456.5" y1="828.6" x2="456.5" y2="842.4" stroke="#000" stroke-width="0.9" />
<line x1="458.9" y1="804.4" x2="458.9" y2="818.2" stroke="#000" stroke-width="0.9" />
<line x1="458.9" y1="828.6" x2="458.9" y2="842.4" stroke="#000" stroke-width="0.9" />
<line x1="428.0" y1="823.4" x2="452.4" y2="823.4" stroke="#000" stroke-width="0.7" />
<line x1="463.0" y1="823.4" x2="488.0" y2="823.4" stroke="#000" stroke-width="0.7" />
<line x1="439.6" y1="840.6" x2="438.0" y2="849.8" stroke="#000" stroke-width="1.1" />
<line x1="475.3" y1="840.6" x2="477.3" y2="849.8" stroke="#000" stroke-width="1.1" />
<line x1="441.4" y1="842.0" x2="440.4" y2="849.8" stroke="#000" stroke-width="0.8" />
<line x1="473.6" y1="842.0" x2="474.6" y2="849.8" stroke="#000" stroke-width="0.8" />
<rect x="430.6" y="850.5" width="54.9" height="3.3" stroke="#000" stroke-width="1.1" fill="none" />
<path d="M430.9,850.5 L430.9,848.6 Q433.5,845.8 436.1,848.6 L436.1,850.5" stroke="#000" stroke-width="1.1" fill="none" />
<line x1="431.7" y1="853.8" x2="431.7" y2="860.5" stroke="#000" stroke-width="0.9" />
<line x1="435.3" y1="853.8" x2="435.3" y2="860.5" stroke="#000" stroke-width="0.9" />
<path d="M431.7,860.5 Q433.5,862.4 435.3,860.5" stroke="#000" stroke-width="0.9" fill="none" />
<path d="M479.7,850.5 L479.7,848.6 Q482.3,845.8 484.90000000000003,848.6 L484.90000000000003,850.5" stroke="#000" stroke-width="1.1" fill="none" />
<line x1="480.5" y1="853.8" x2="480.5" y2="860.5" stroke="#000" stroke-width="0.9" />
<line x1="484.1" y1="853.8" x2="484.1" y2="860.5" stroke="#000" stroke-width="0.9" />
<path d="M480.5,860.5 Q482.3,862.4 484.1,860.5" stroke="#000" stroke-width="0.9" fill="none" />
<line x1="427.3" y1="846.4" x2="427.3" y2="856.0" stroke="#000" stroke-width="1.1" />
<path d="M416.7,856 L416.7,853 Q419.5,850 422.3,853 L422.3,856" stroke="#000" stroke-width="1.1" fill="none" />
<line x1="417.9" y1="856.0" x2="417.9" y2="862.0" stroke="#000" stroke-width="0.8" />
<line x1="421.1" y1="856.0" x2="421.1" y2="862.0" stroke="#000" stroke-width="0.8" />
<path d="M493.4,856 L493.4,853 Q496.2,850 499.0,853 L499.0,856" stroke="#000" stroke-width="1.1" fill="none" />
<line x1="494.6" y1="856.0" x2="494.6" y2="862.0" stroke="#000" stroke-width="0.8" />
<line x1="497.8" y1="856.0" x2="497.8" y2="862.0" stroke="#000" stroke-width="0.8" />
<path d="M484.7,799.6 L538.2,817.3 Q553.4,822.5 553.4,838 L553.4,851.8" stroke="#000" stroke-width="1.2" fill="none" />
<line x1="483.4" y1="810.6" x2="515.0" y2="820.6" stroke="#000" stroke-width="0.9" />
<path d="M523.0,823.0 L515.0,821.8 L515.8,819.4 Z" fill="#000" stroke="none"/>
<line x1="467.5" y1="814.0" x2="523.6" y2="829.0" stroke="#000" stroke-width="1.6" />
<path d="M462.4,837.6 Q492,843.5 522,839.6" stroke="#000" stroke-width="1.6" fill="none" />
<line x1="462.6" y1="834.6" x2="477.0" y2="838.4" stroke="#000" stroke-width="0.8" />
<text transform="translate(486.6,807.4) rotate(17.5)" font-family='"Liberation Sans", "Noto Sans CJK SC", sans-serif' font-size="6.6" font-weight="500" text-anchor="start" fill="#000" >旋转方向</text>
<circle cx="534.5" cy="835.9" r="14.2" stroke="#000" stroke-width="1.2" fill="#fff" />
<line x1="515.3" y1="851.8" x2="523.6" y2="830.0" stroke="#000" stroke-width="1" />
<line x1="517.5" y1="851.8" x2="524.6" y2="833.0" stroke="#000" stroke-width="1" />
<line x1="520.3" y1="851.8" x2="525.6" y2="838.2" stroke="#000" stroke-width="1" />
<line x1="522.6" y1="851.8" x2="527.0" y2="842.0" stroke="#000" stroke-width="1" />
<line x1="553.1" y1="851.8" x2="546.6" y2="836.0" stroke="#000" stroke-width="1" />
<line x1="551.0" y1="851.8" x2="545.6" y2="838.0" stroke="#000" stroke-width="1" />
<line x1="548.4" y1="851.8" x2="543.6" y2="840.0" stroke="#000" stroke-width="1" />
<line x1="546.2" y1="851.8" x2="542.4" y2="843.0" stroke="#000" stroke-width="1" />
<circle cx="534.5" cy="835.9" r="11.8" stroke="#000" stroke-width="1" fill="#fff" />
<circle cx="534.5" cy="835.9" r="9.8" stroke="#000" stroke-width="1.2" fill="none" />
<circle cx="534.5" cy="835.9" r="7.4" stroke="#000" stroke-width="1.3" fill="none" />
<circle cx="534.5" cy="835.9" r="4.9" stroke="#000" stroke-width="0.5" fill="#111" />
<rect x="529.6" y="834.0" width="3.0" height="4.4" stroke="#fff" stroke-width="0.3" fill="#fff" />
<line x1="530.6" y1="836.2" x2="532.6" y2="836.2" stroke="#111" stroke-width="0.7" />
<rect x="533.3" y="818.8" width="2.4" height="3.0" stroke="#000" stroke-width="0.5" fill="#111" />
<line x1="534.5" y1="814.6" x2="534.5" y2="872.0" stroke="#000" stroke-width="0.6" />
<path d="M524,848.4 Q534.5,854.5 544.3,848.4" stroke="#000" stroke-width="1" fill="none" />
<line x1="503.1" y1="852.5" x2="565.3" y2="852.5" stroke="#000" stroke-width="1.8" />
<line x1="503.5" y1="851.0" x2="503.5" y2="856.0" stroke="#000" stroke-width="1" />
<path d="M507,851.6 Q509.5,849.2 512,851.6 M558,851.6 Q560.5,849.2 563,851.6" stroke="#000" stroke-width="1" fill="none" />
<line x1="508.5" y1="853.0" x2="508.5" y2="860.5" stroke="#000" stroke-width="0.7" />
<line x1="516.4" y1="853.0" x2="516.4" y2="860.5" stroke="#000" stroke-width="0.7" />
<line x1="544.5" y1="853.0" x2="544.5" y2="860.5" stroke="#000" stroke-width="0.7" />
<line x1="552.6" y1="853.0" x2="552.6" y2="860.5" stroke="#000" stroke-width="0.7" />
<line x1="560.3" y1="853.0" x2="560.3" y2="860.5" stroke="#000" stroke-width="0.7" />
<rect x="566.0" y="850.8" width="2.0" height="10.2" stroke="#000" stroke-width="0.8" fill="#222" />
</g>
<g id="frame1">
<path d="M406.7,924.0 L406.7,856.7 L571.7,856.7 L571.7,924.0" stroke="#000" stroke-width="1.2" fill="none" />
<path d="M408.4,922.0 L408.4,858.4 L570.0,858.4 L570.0,922.0" stroke="#000" stroke-width="1" fill="none" />
<line x1="408.4" y1="868.3" x2="570.0" y2="868.3" stroke="#000" stroke-width="1.2" />
<line x1="408.4" y1="870.3" x2="570.0" y2="870.3" stroke="#000" stroke-width="1.2" />
<line x1="418.7" y1="870.3" x2="418.7" y2="922.3" stroke="#000" stroke-width="1.1" />
<rect x="407.0" y="922.3" width="19.3" height="1.7" stroke="#000" stroke-width="1" fill="#fff" />
<line x1="557.0" y1="870.3" x2="557.0" y2="922.3" stroke="#000" stroke-width="1" />
<line x1="559.7" y1="870.3" x2="559.7" y2="922.3" stroke="#000" stroke-width="1" />
<line x1="573.7" y1="884.0" x2="573.7" y2="922.3" stroke="#000" stroke-width="1" />
<line x1="575.7" y1="884.0" x2="575.7" y2="922.3" stroke="#000" stroke-width="1" />
<rect x="551.7" y="922.3" width="28.0" height="1.9" stroke="#000" stroke-width="1" fill="#fff" />
<line x1="422.3" y1="885.0" x2="441.0" y2="871.7" stroke="#000" stroke-width="1.1" />
<line x1="537.0" y1="870.3" x2="559.0" y2="887.0" stroke="#000" stroke-width="1.1" />
<circle cx="421.0" cy="883.0" r="1.3" stroke="#000" stroke-width="0.9" fill="none" />
<path d="M441.0,870.3 L448.3,894.0 L457.7,864.5 L490.3,884.3 L490.3,894.0" stroke="#000" stroke-width="1.1" fill="none" />
<line x1="448.3" y1="894.0" x2="490.3" y2="894.0" stroke="#000" stroke-width="1.3" />
<line x1="475.0" y1="870.3" x2="490.3" y2="884.3" stroke="#000" stroke-width="0.9" />
<line x1="444.0" y1="858.4" x2="444.0" y2="868.3" stroke="#555" stroke-width="0.6" />
<line x1="471.0" y1="858.4" x2="471.0" y2="868.3" stroke="#555" stroke-width="0.6" />
<rect x="437.3" y="864.6" width="3.9" height="3.7" stroke="#000" stroke-width="0.9" fill="#fff" />
<line x1="419.0" y1="886.6" x2="520.3" y2="886.6" stroke="#000" stroke-width="1.2" />
<line x1="419.0" y1="893.7" x2="520.3" y2="893.7" stroke="#000" stroke-width="0.8" />
<line x1="419.0" y1="901.0" x2="520.3" y2="901.0" stroke="#000" stroke-width="1.7" />
<rect x="513.2" y="881.6" width="3.4" height="5.0" stroke="#000" stroke-width="1" fill="none" />
<path d="M513.4,881.6 Q514.9,879.4 516.4,881.6" stroke="#000" stroke-width="0.9" fill="none" />
<rect x="520.3" y="879.0" width="3.4" height="29.3" stroke="#000" stroke-width="0.6" fill="#111" />
<line x1="521.2" y1="886.0" x2="521.2" y2="901.0" stroke="#fff" stroke-width="0.6" />
<rect x="407.7" y="879.0" width="8.6" height="6.0" stroke="#000" stroke-width="0.6" fill="#111" />
<rect x="407.7" y="902.3" width="8.6" height="6.0" stroke="#000" stroke-width="0.6" fill="#111" />
<line x1="410.3" y1="885.0" x2="410.3" y2="902.3" stroke="#000" stroke-width="1" />
<line x1="415.0" y1="885.0" x2="415.0" y2="902.3" stroke="#000" stroke-width="1" />
<line x1="412.6" y1="885.0" x2="412.6" y2="902.3" stroke="#000" stroke-width="0.7" />
</g>

<g id="frame2">
<line x1="623.2" y1="716.4" x2="746.6" y2="716.4" stroke="#000" stroke-width="1.2" />
<line x1="746.6" y1="716.4" x2="746.6" y2="922.0" stroke="#000" stroke-width="1.3" />
<line x1="737.3" y1="735.7" x2="737.3" y2="864.7" stroke="#000" stroke-width="1" />
<path d="M737.3,735.7 L766.6,735.7 L766.6,742.9 L746.6,762.8" stroke="#000" stroke-width="1" fill="none" />
<line x1="746.6" y1="735.7" x2="623.7" y2="858.7" stroke="#000" stroke-width="1.1" />
<line x1="623.7" y1="858.0" x2="623.7" y2="871.3" stroke="#000" stroke-width="1.1" />
<line x1="598.5" y1="871.3" x2="623.7" y2="871.3" stroke="#000" stroke-width="1.2" />
<rect x="605.3" y="871.3" width="11.4" height="2.7" stroke="#000" stroke-width="1" fill="#fff" />
<rect x="598.7" y="874.0" width="24.0" height="2.6" stroke="#000" stroke-width="1" fill="#fff" />
<rect x="555.8" y="862.4" width="190.8" height="3.6" stroke="#333" stroke-width="0.6" fill="#bbb" />
<line x1="555.8" y1="864.6" x2="746.6" y2="864.6" stroke="#222" stroke-width="1.3" />
<line x1="556.0" y1="883.5" x2="746.6" y2="883.5" stroke="#000" stroke-width="1.8" />
<line x1="572.0" y1="885.2" x2="727.0" y2="885.2" stroke="#000" stroke-width="0.7" />
<line x1="727.3" y1="883.3" x2="727.3" y2="922.0" stroke="#000" stroke-width="1" />
<line x1="729.3" y1="883.3" x2="729.3" y2="922.0" stroke="#000" stroke-width="1" />
<rect x="723.0" y="922.0" width="29.0" height="2.6" stroke="#000" stroke-width="1" fill="#fff" />
<rect x="587.3" y="858.4" width="47.4" height="5.6" stroke="#000" stroke-width="1" fill="none" />
<rect x="654.7" y="858.0" width="57.0" height="4.7" stroke="#000" stroke-width="1" fill="#fff" />
<rect x="654.7" y="857.2" width="2.8" height="6.4" stroke="#000" stroke-width="0.8" fill="#fff" />
<line x1="657.5" y1="860.3" x2="661.0" y2="860.3" stroke="#222" stroke-width="2.2" />
<circle cx="663.5" cy="860.3" r="2.0" stroke="#000" stroke-width="0.8" fill="#333" />
<line x1="665.5" y1="860.3" x2="669.0" y2="860.3" stroke="#222" stroke-width="2.2" />
<rect x="587.9" y="856.4" width="5.6" height="2.0" stroke="#000" stroke-width="0.4" fill="#111" />
<ellipse cx="590.7" cy="861.4" rx="2.4" ry="3.2" stroke="#000" stroke-width="1.6" fill="none" />
<ellipse cx="590.7" cy="867.0" rx="2.5" ry="1.7" stroke="#000" stroke-width="0.4" fill="#111" />
<rect x="628.2" y="856.4" width="5.6" height="2.0" stroke="#000" stroke-width="0.4" fill="#111" />
<ellipse cx="631.0" cy="861.4" rx="2.4" ry="3.2" stroke="#000" stroke-width="1.6" fill="none" />
<ellipse cx="631.0" cy="867.0" rx="2.5" ry="1.7" stroke="#000" stroke-width="0.4" fill="#111" />
<rect x="669.9" y="856.4" width="5.6" height="2.0" stroke="#000" stroke-width="0.4" fill="#111" />
<ellipse cx="672.7" cy="861.4" rx="2.4" ry="3.2" stroke="#000" stroke-width="1.6" fill="none" />
<ellipse cx="672.7" cy="867.0" rx="2.5" ry="1.7" stroke="#000" stroke-width="0.4" fill="#111" />
<rect x="698.8" y="856.4" width="5.6" height="2.0" stroke="#000" stroke-width="0.4" fill="#111" />
<ellipse cx="701.6" cy="861.4" rx="2.4" ry="3.2" stroke="#000" stroke-width="1.6" fill="none" />
<ellipse cx="701.6" cy="867.0" rx="2.5" ry="1.7" stroke="#000" stroke-width="0.4" fill="#111" />
<rect x="675.8" y="816.8" width="23.5" height="38.6" rx="6" ry="6" fill="#fff" stroke="#000" stroke-width="1.2"/>
<rect x="677.0" y="823.6" width="21.2" height="25.1" stroke="#000" stroke-width="0.6" fill="#444" />
<line x1="679.2" y1="823.6" x2="679.2" y2="848.7" stroke="#ccc" stroke-width="0.7" />
<line x1="681.6" y1="823.6" x2="681.6" y2="848.7" stroke="#ccc" stroke-width="0.7" />
<line x1="684.0" y1="823.6" x2="684.0" y2="848.7" stroke="#ccc" stroke-width="0.7" />
<line x1="689.2" y1="823.6" x2="689.2" y2="848.7" stroke="#ccc" stroke-width="0.7" />
<line x1="691.6" y1="823.6" x2="691.6" y2="848.7" stroke="#ccc" stroke-width="0.7" />
<line x1="694.0" y1="823.6" x2="694.0" y2="848.7" stroke="#ccc" stroke-width="0.7" />
<line x1="696.2" y1="823.6" x2="696.2" y2="848.7" stroke="#ccc" stroke-width="0.7" />
<rect x="686.1" y="823.6" width="2.4" height="25.1" stroke="#000" stroke-width="0.4" fill="#fff" />
<line x1="687.3" y1="823.6" x2="687.3" y2="872.0" stroke="#000" stroke-width="0.7" />
<rect x="682.4" y="855.4" width="10.3" height="18.6" stroke="#000" stroke-width="1" fill="none" />
<rect x="684.6" y="855.4" width="5.8" height="2.9" stroke="#000" stroke-width="0.8" fill="#fff" />
<rect x="675.4" y="874.3" width="23.9" height="2.3" stroke="#000" stroke-width="1" fill="#fff" />
</g>
<g id="furnace">
<line x1="994.5" y1="240.4" x2="1233.0" y2="240.4" stroke="#1a1a1a" stroke-width="1" stroke-dasharray="4.4 0.9"/>
<line x1="994.5" y1="240.4" x2="994.5" y2="389.2" stroke="#1a1a1a" stroke-width="1" stroke-dasharray="4.4 0.9"/>
<line x1="1233.0" y1="240.4" x2="1233.0" y2="389.2" stroke="#1a1a1a" stroke-width="1" stroke-dasharray="4.4 0.9"/>
<line x1="994.5" y1="389.2" x2="1109.3" y2="389.2" stroke="#1a1a1a" stroke-width="1" stroke-dasharray="4.4 0.9"/>
<line x1="1118.2" y1="389.2" x2="1233.0" y2="389.2" stroke="#1a1a1a" stroke-width="1" stroke-dasharray="4.4 0.9"/>
<line x1="1012.5" y1="259.0" x2="1215.0" y2="259.0" stroke="#1a1a1a" stroke-width="1" stroke-dasharray="4.4 0.9"/>
<line x1="1012.5" y1="259.0" x2="1012.5" y2="370.6" stroke="#1a1a1a" stroke-width="1" stroke-dasharray="4.4 0.9"/>
<line x1="1215.0" y1="259.0" x2="1215.0" y2="370.6" stroke="#1a1a1a" stroke-width="1" stroke-dasharray="4.4 0.9"/>
<line x1="1012.5" y1="370.6" x2="1109.3" y2="370.6" stroke="#1a1a1a" stroke-width="1" stroke-dasharray="4.4 0.9"/>
<line x1="1118.2" y1="370.6" x2="1215.0" y2="370.6" stroke="#1a1a1a" stroke-width="1" stroke-dasharray="4.4 0.9"/>
<text transform="translate(1082.0,330.0) scale(0.72,1)" font-family='"Liberation Sans", "Noto Sans CJK SC", sans-serif' font-size="34" font-weight="100" text-anchor="middle" fill="#111" >炉膛</text>
<line x1="994.5" y1="200.0" x2="994.5" y2="240.4" stroke="#000" stroke-width="0.9" />
<line x1="1233.0" y1="200.0" x2="1233.0" y2="240.4" stroke="#000" stroke-width="0.9" />
<line x1="994.5" y1="208.2" x2="1233.0" y2="208.2" stroke="#000" stroke-width="0.9" />
<path d="M994.5,208.2 L1017.1,204.4 L1017.1,212.0 Z" fill="#000" stroke="none"/>
<path d="M1233.0,208.2 L1210.4,212.0 L1210.4,204.4 Z" fill="#000" stroke="none"/>
<text transform="translate(1113.5,198.9)" font-family='"Liberation Sans", sans-serif' font-size="31" font-weight="400" text-anchor="middle" fill="#000" >3000</text>
<line x1="1233.0" y1="240.4" x2="1294.0" y2="240.4" stroke="#000" stroke-width="0.9" />
<line x1="1233.0" y1="389.2" x2="1294.0" y2="389.2" stroke="#000" stroke-width="0.9" />
<line x1="1286.5" y1="240.4" x2="1286.5" y2="389.2" stroke="#000" stroke-width="0.9" />
<path d="M1286.5,240.4 L1290.3,263.0 L1282.7,263.0 Z" fill="#000" stroke="none"/>
<path d="M1286.5,389.2 L1282.7,366.6 L1290.3,366.6 Z" fill="#000" stroke="none"/>
<text transform="translate(1278.0,316.0) rotate(-90)" font-family='"Liberation Sans", sans-serif' font-size="32.2" font-weight="400" text-anchor="middle" fill="#000" >1000</text>
<rect x="1036.4" y="363.3" width="9.8" height="33.9" stroke="#000" stroke-width="0.9" fill="#fff" />
<line x1="1036.4" y1="370.6" x2="1046.2" y2="370.6" stroke="#777" stroke-width="0.7" stroke-dasharray="4.4 0.9"/>
<line x1="1036.4" y1="389.2" x2="1046.2" y2="389.2" stroke="#777" stroke-width="0.7" stroke-dasharray="4.4 0.9"/>
<line x1="1041.3" y1="397.2" x2="1041.3" y2="412.3" stroke="#000" stroke-width="1.7" />
<path d="M1034.5,412.3 L1048.1,412.3 L1034.5,435.9 L1048.1,435.9 Z" stroke="#000" stroke-width="1" fill="none" />
<line x1="1034.5" y1="435.9" x2="1048.1" y2="435.9" stroke="#000" stroke-width="1.8" />
<circle cx="1041.3" cy="424.1" r="1.9" stroke="#000" stroke-width="0" fill="#000" />
<path d="M1036.7,437.0 L1038.1,438.3 L1036.7,439.5 L1038.1,440.8 L1036.7,442.1 L1038.1,443.3 L1036.7,444.6 L1038.1,445.9 L1036.7,447.1 L1038.1,448.4 L1036.7,449.7 L1038.1,450.9 L1036.7,452.2" stroke="#000" stroke-width="0.8" fill="none" />
<path d="M1045.9,437.0 L1044.5,438.3 L1045.9,439.5 L1044.5,440.8 L1045.9,442.1 L1044.5,443.3 L1045.9,444.6 L1044.5,445.9 L1045.9,447.1 L1044.5,448.4 L1045.9,449.7 L1044.5,450.9 L1045.9,452.2" stroke="#000" stroke-width="0.8" fill="none" />
<line x1="1038.1" y1="439.5" x2="1044.5" y2="439.5" stroke="#666" stroke-width="0.5" />
<line x1="1038.1" y1="442.1" x2="1044.5" y2="442.1" stroke="#666" stroke-width="0.5" />
<line x1="1038.1" y1="444.6" x2="1044.5" y2="444.6" stroke="#666" stroke-width="0.5" />
<line x1="1038.1" y1="447.1" x2="1044.5" y2="447.1" stroke="#666" stroke-width="0.5" />
<line x1="1038.1" y1="449.7" x2="1044.5" y2="449.7" stroke="#666" stroke-width="0.5" />
<line x1="1039.1" y1="437.0" x2="1039.1" y2="452.2" stroke="#444" stroke-width="0.6" />
<line x1="1043.5" y1="437.0" x2="1043.5" y2="452.2" stroke="#444" stroke-width="0.6" />
<line x1="1034.3" y1="452.7" x2="1048.3" y2="452.7" stroke="#000" stroke-width="1.8" />
<rect x="1080.6" y="363.3" width="9.8" height="33.9" stroke="#000" stroke-width="0.9" fill="#fff" />
<line x1="1080.6" y1="370.6" x2="1090.4" y2="370.6" stroke="#777" stroke-width="0.7" stroke-dasharray="4.4 0.9"/>
<line x1="1080.6" y1="389.2" x2="1090.4" y2="389.2" stroke="#777" stroke-width="0.7" stroke-dasharray="4.4 0.9"/>
<line x1="1085.5" y1="397.2" x2="1085.5" y2="412.3" stroke="#000" stroke-width="1.7" />
<path d="M1078.7,412.3 L1092.3,412.3 L1078.7,435.9 L1092.3,435.9 Z" stroke="#000" stroke-width="1" fill="none" />
<line x1="1078.7" y1="435.9" x2="1092.3" y2="435.9" stroke="#000" stroke-width="1.8" />
<circle cx="1085.5" cy="424.1" r="1.9" stroke="#000" stroke-width="0" fill="#000" />
<path d="M1080.9,437.0 L1082.3,438.3 L1080.9,439.5 L1082.3,440.8 L1080.9,442.1 L1082.3,443.3 L1080.9,444.6 L1082.3,445.9 L1080.9,447.1 L1082.3,448.4 L1080.9,449.7 L1082.3,450.9 L1080.9,452.2" stroke="#000" stroke-width="0.8" fill="none" />
<path d="M1090.1,437.0 L1088.7,438.3 L1090.1,439.5 L1088.7,440.8 L1090.1,442.1 L1088.7,443.3 L1090.1,444.6 L1088.7,445.9 L1090.1,447.1 L1088.7,448.4 L1090.1,449.7 L1088.7,450.9 L1090.1,452.2" stroke="#000" stroke-width="0.8" fill="none" />
<line x1="1082.3" y1="439.5" x2="1088.7" y2="439.5" stroke="#666" stroke-width="0.5" />
<line x1="1082.3" y1="442.1" x2="1088.7" y2="442.1" stroke="#666" stroke-width="0.5" />
<line x1="1082.3" y1="444.6" x2="1088.7" y2="444.6" stroke="#666" stroke-width="0.5" />
<line x1="1082.3" y1="447.1" x2="1088.7" y2="447.1" stroke="#666" stroke-width="0.5" />
<line x1="1082.3" y1="449.7" x2="1088.7" y2="449.7" stroke="#666" stroke-width="0.5" />
<line x1="1083.3" y1="437.0" x2="1083.3" y2="452.2" stroke="#444" stroke-width="0.6" />
<line x1="1087.7" y1="437.0" x2="1087.7" y2="452.2" stroke="#444" stroke-width="0.6" />
<line x1="1078.5" y1="452.7" x2="1092.5" y2="452.7" stroke="#000" stroke-width="1.8" />
<rect x="1130.2" y="363.3" width="9.8" height="33.9" stroke="#000" stroke-width="0.9" fill="#fff" />
<line x1="1130.2" y1="370.6" x2="1140.0" y2="370.6" stroke="#777" stroke-width="0.7" stroke-dasharray="4.4 0.9"/>
<line x1="1130.2" y1="389.2" x2="1140.0" y2="389.2" stroke="#777" stroke-width="0.7" stroke-dasharray="4.4 0.9"/>
<line x1="1135.1" y1="397.2" x2="1135.1" y2="412.3" stroke="#000" stroke-width="1.7" />
<path d="M1128.3,412.3 L1141.9,412.3 L1128.3,435.9 L1141.9,435.9 Z" stroke="#000" stroke-width="1" fill="none" />
<line x1="1128.3" y1="435.9" x2="1141.9" y2="435.9" stroke="#000" stroke-width="1.8" />
<circle cx="1135.1" cy="424.1" r="1.9" stroke="#000" stroke-width="0" fill="#000" />
<path d="M1130.5,437.0 L1131.9,438.3 L1130.5,439.5 L1131.9,440.8 L1130.5,442.1 L1131.9,443.3 L1130.5,444.6 L1131.9,445.9 L1130.5,447.1 L1131.9,448.4 L1130.5,449.7 L1131.9,450.9 L1130.5,452.2" stroke="#000" stroke-width="0.8" fill="none" />
<path d="M1139.7,437.0 L1138.3,438.3 L1139.7,439.5 L1138.3,440.8 L1139.7,442.1 L1138.3,443.3 L1139.7,444.6 L1138.3,445.9 L1139.7,447.1 L1138.3,448.4 L1139.7,449.7 L1138.3,450.9 L1139.7,452.2" stroke="#000" stroke-width="0.8" fill="none" />
<line x1="1131.9" y1="439.5" x2="1138.3" y2="439.5" stroke="#666" stroke-width="0.5" />
<line x1="1131.9" y1="442.1" x2="1138.3" y2="442.1" stroke="#666" stroke-width="0.5" />
<line x1="1131.9" y1="444.6" x2="1138.3" y2="444.6" stroke="#666" stroke-width="0.5" />
<line x1="1131.9" y1="447.1" x2="1138.3" y2="447.1" stroke="#666" stroke-width="0.5" />
<line x1="1131.9" y1="449.7" x2="1138.3" y2="449.7" stroke="#666" stroke-width="0.5" />
<line x1="1132.9" y1="437.0" x2="1132.9" y2="452.2" stroke="#444" stroke-width="0.6" />
<line x1="1137.3" y1="437.0" x2="1137.3" y2="452.2" stroke="#444" stroke-width="0.6" />
<line x1="1128.1" y1="452.7" x2="1142.1" y2="452.7" stroke="#000" stroke-width="1.8" />
<rect x="1181.4" y="363.3" width="9.8" height="33.9" stroke="#000" stroke-width="0.9" fill="#fff" />
<line x1="1181.4" y1="370.6" x2="1191.2" y2="370.6" stroke="#777" stroke-width="0.7" stroke-dasharray="4.4 0.9"/>
<line x1="1181.4" y1="389.2" x2="1191.2" y2="389.2" stroke="#777" stroke-width="0.7" stroke-dasharray="4.4 0.9"/>
<line x1="1186.3" y1="397.2" x2="1186.3" y2="412.3" stroke="#000" stroke-width="1.7" />
<path d="M1179.5,412.3 L1193.1,412.3 L1179.5,435.9 L1193.1,435.9 Z" stroke="#000" stroke-width="1" fill="none" />
<line x1="1179.5" y1="435.9" x2="1193.1" y2="435.9" stroke="#000" stroke-width="1.8" />
<circle cx="1186.3" cy="424.1" r="1.9" stroke="#000" stroke-width="0" fill="#000" />
<path d="M1181.7,437.0 L1183.1,438.3 L1181.7,439.5 L1183.1,440.8 L1181.7,442.1 L1183.1,443.3 L1181.7,444.6 L1183.1,445.9 L1181.7,447.1 L1183.1,448.4 L1181.7,449.7 L1183.1,450.9 L1181.7,452.2" stroke="#000" stroke-width="0.8" fill="none" />
<path d="M1190.9,437.0 L1189.5,438.3 L1190.9,439.5 L1189.5,440.8 L1190.9,442.1 L1189.5,443.3 L1190.9,444.6 L1189.5,445.9 L1190.9,447.1 L1189.5,448.4 L1190.9,449.7 L1189.5,450.9 L1190.9,452.2" stroke="#000" stroke-width="0.8" fill="none" />
<line x1="1183.1" y1="439.5" x2="1189.5" y2="439.5" stroke="#666" stroke-width="0.5" />
<line x1="1183.1" y1="442.1" x2="1189.5" y2="442.1" stroke="#666" stroke-width="0.5" />
<line x1="1183.1" y1="444.6" x2="1189.5" y2="444.6" stroke="#666" stroke-width="0.5" />
<line x1="1183.1" y1="447.1" x2="1189.5" y2="447.1" stroke="#666" stroke-width="0.5" />
<line x1="1183.1" y1="449.7" x2="1189.5" y2="449.7" stroke="#666" stroke-width="0.5" />
<line x1="1184.1" y1="437.0" x2="1184.1" y2="452.2" stroke="#444" stroke-width="0.6" />
<line x1="1188.5" y1="437.0" x2="1188.5" y2="452.2" stroke="#444" stroke-width="0.6" />
<line x1="1179.3" y1="452.7" x2="1193.3" y2="452.7" stroke="#000" stroke-width="1.8" />
<path d="M1041.3,452.7 L1041.3,459.5 Q1041.3,471.8 1055.5,471.8 L1172.1,471.8 Q1186.3,471.8 1186.3,459.5 L1186.3,452.7" stroke="#000" stroke-width="2" fill="none" />
<line x1="1085.5" y1="452.7" x2="1085.5" y2="471.8" stroke="#000" stroke-width="1.7" />
<line x1="1135.1" y1="452.7" x2="1135.1" y2="471.8" stroke="#000" stroke-width="1.7" />
</g>
<g id="cabinet">
<rect x="241.3" y="701.0" width="88.3" height="132.8" stroke="#000" stroke-width="1.2" fill="none" />
<line x1="241.3" y1="742.0" x2="329.6" y2="742.0" stroke="#000" stroke-width="1.4" />
<circle cx="260.5" cy="723.0" r="4.6" stroke="#000" stroke-width="1.1" fill="none" />
<circle cx="286.0" cy="723.0" r="4.6" stroke="#000" stroke-width="1.1" fill="none" />
<circle cx="311.9" cy="723.0" r="4.6" stroke="#000" stroke-width="1.1" fill="none" />
</g>
<g id="blower">
<rect x="154.4" y="746.4" width="42.1" height="3.9" rx="1.2" fill="#fff" stroke="#000" stroke-width="1"/>
<line x1="154.4" y1="748.3" x2="196.5" y2="748.3" stroke="#000" stroke-width="0.7" />
<rect x="155.5" y="750.3" width="40.0" height="39.9" stroke="#000" stroke-width="1.1" fill="none" />
<rect x="162.7" y="790.2" width="24.5" height="43.1" stroke="#000" stroke-width="1.1" fill="none" />
<rect x="167.1" y="833.3" width="15.5" height="12.6" stroke="#000" stroke-width="1.1" fill="none" />
<rect x="159.3" y="845.7" width="31.6" height="6.6" stroke="#000" stroke-width="1.1" fill="none" />
<line x1="159.3" y1="849.0" x2="190.9" y2="849.0" stroke="#000" stroke-width="0.8" />
<line x1="162.1" y1="845.7" x2="162.1" y2="852.3" stroke="#000" stroke-width="0.8" />
<line x1="188.0" y1="845.7" x2="188.0" y2="852.3" stroke="#000" stroke-width="0.8" />
<line x1="175.0" y1="741.6" x2="175.0" y2="906.7" stroke="#000" stroke-width="1.1" stroke-dasharray="3.2 0.8"/>
<rect x="173.2" y="740.4" width="3.6" height="4.2" stroke="#000" stroke-width="0.5" fill="#222" />
<circle cx="111.6" cy="875.4" r="20.9" stroke="#000" stroke-width="1.2" fill="none" />
<circle cx="111.6" cy="875.4" r="17.3" stroke="#000" stroke-width="1.1" fill="none" />
<circle cx="111.6" cy="875.4" r="11.3" stroke="#000" stroke-width="1.1" fill="none" />
<circle cx="111.6" cy="875.4" r="3.3" stroke="#000" stroke-width="1" fill="none" />
<line x1="76.9" y1="875.4" x2="135.6" y2="875.4" stroke="#000" stroke-width="1" />
<line x1="111.6" y1="851.0" x2="111.6" y2="898.7" stroke="#000" stroke-width="1" />
<rect x="110.5" y="849.4" width="2.2" height="4.2" stroke="#000" stroke-width="0.4" fill="#111" />
<path d="M91.5,867.9 L80.2,867.9 L80.2,886.9 L86.4,886.9 L86.4,880.6 L91.4,880.6" stroke="#000" stroke-width="0.9" fill="none" />
<path d="M95.6,888.6 L91.6,894.0 L91.6,899.5" stroke="#000" stroke-width="1" fill="none" />
<path d="M127.4,888.6 L131.4,894.0 L131.4,899.5" stroke="#000" stroke-width="1" fill="none" />
<rect x="92.6" y="893.6" width="8.0" height="5.9" stroke="#000" stroke-width="1" fill="none" />
<rect x="122.4" y="893.6" width="8.0" height="5.9" stroke="#000" stroke-width="1" fill="none" />
<circle cx="96.6" cy="899.8" r="1.4" stroke="#000" stroke-width="0.8" fill="none" />
<circle cx="126.4" cy="899.8" r="1.4" stroke="#000" stroke-width="0.8" fill="none" />
<path d="M163.8,854.5 L183.5,854.6 A17,17 0 0 1 183.5,888.6 L156,888.6" stroke="#000" stroke-width="1.1" fill="none" />
<circle cx="163.8" cy="871.6" r="17.2" stroke="#000" stroke-width="1.2" fill="none" />
<circle cx="163.8" cy="871.6" r="15.6" stroke="#000" stroke-width="1" fill="none" />
<circle cx="163.8" cy="871.6" r="11.0" stroke="#000" stroke-width="1.1" fill="none" />
<circle cx="163.8" cy="871.6" r="8.6" stroke="#000" stroke-width="1" fill="none" />
<circle cx="163.8" cy="871.6" r="3.3" stroke="#000" stroke-width="1" fill="none" />
<line x1="144.3" y1="871.6" x2="173.0" y2="871.6" stroke="#000" stroke-width="0.9" />
<line x1="163.8" y1="857.0" x2="163.8" y2="886.5" stroke="#000" stroke-width="0.9" />
<circle cx="184.5" cy="871.6" r="5.3" stroke="#000" stroke-width="1.1" fill="none" />
<line x1="184.5" y1="864.1" x2="184.5" y2="879.1" stroke="#000" stroke-width="0.8" />
<line x1="177.0" y1="871.6" x2="195.5" y2="871.6" stroke="#000" stroke-width="0.8" />
<line x1="113.0" y1="864.2" x2="161.5" y2="860.2" stroke="#000" stroke-width="0.9" />
<line x1="113.0" y1="886.3" x2="160.0" y2="882.5" stroke="#000" stroke-width="0.9" />
<path d="M157.8,888.3 L157.8,896.0 L154.6,899.5" stroke="#000" stroke-width="1" fill="none" />
<path d="M165.6,888.3 L165.6,899.5" stroke="#000" stroke-width="1" fill="none" />
<path d="M181.0,888.3 L181.0,899.5" stroke="#000" stroke-width="1" fill="none" />
<path d="M186.8,888.3 L186.8,895.0 L191.5,899.5" stroke="#000" stroke-width="1" fill="none" />
<path d="M157.5,898.6 L161.5,895.5 L161.5,898.6" stroke="#000" stroke-width="0.8" fill="none" />
<rect x="90.3" y="899.4" width="102.2" height="16.5" stroke="#000" stroke-width="1.1" fill="none" />
<line x1="90.3" y1="899.4" x2="192.5" y2="899.4" stroke="#000" stroke-width="1.8" />
<line x1="90.3" y1="915.9" x2="192.5" y2="915.9" stroke="#000" stroke-width="1.8" />
<line x1="101.9" y1="908.6" x2="101.9" y2="921.2" stroke="#000" stroke-width="1" />
<line x1="141.4" y1="908.6" x2="141.4" y2="921.2" stroke="#000" stroke-width="1" />
<line x1="181.0" y1="908.6" x2="181.0" y2="921.2" stroke="#000" stroke-width="1" />
<rect x="201.9" y="867.5" width="6.6" height="17.2" stroke="#000" stroke-width="1" fill="#fff" />
<line x1="204.6" y1="868.0" x2="204.6" y2="884.7" stroke="#000" stroke-width="0.8" />
<line x1="206.8" y1="868.0" x2="206.8" y2="884.7" stroke="#000" stroke-width="0.8" />
<line x1="201.0" y1="867.5" x2="210.0" y2="867.5" stroke="#000" stroke-width="1.6" />
<line x1="205.2" y1="856.0" x2="205.2" y2="867.5" stroke="#000" stroke-width="2.2" />
<circle cx="205.2" cy="855.8" r="1.7" stroke="#000" stroke-width="0.6" fill="#111" />
<line x1="198.7" y1="885.6" x2="214.2" y2="885.6" stroke="#111" stroke-width="2.8" />
<circle cx="213.0" cy="874.0" r="2.9" stroke="#000" stroke-width="1.1" fill="none" />
<circle cx="213.0" cy="874.0" r="1.0" stroke="#000" stroke-width="0.4" fill="#333" />
<line x1="213.0" y1="877.0" x2="213.0" y2="886.0" stroke="#000" stroke-width="1.8" />
<line x1="192.6" y1="901.1" x2="215.9" y2="901.1" stroke="#000" stroke-width="0.9" />
<clipPath id="ballclip"><rect x="222.9" y="880" width="14.3" height="28"/></clipPath>
<circle cx="230.0" cy="893.4" r="10.7" stroke="#000" stroke-width="1" fill="none" clip-path="url(#ballclip)"/>
<rect x="215.9" y="878.1" width="7.0" height="31.6" stroke="#000" stroke-width="1" fill="#fff" />
<line x1="218.3" y1="878.1" x2="218.3" y2="909.7" stroke="#000" stroke-width="0.8" />
<line x1="220.8" y1="878.1" x2="220.8" y2="909.7" stroke="#000" stroke-width="0.8" />
<line x1="215.9" y1="880.6" x2="222.9" y2="880.6" stroke="#000" stroke-width="0.7" />
<line x1="215.9" y1="906.9" x2="222.9" y2="906.9" stroke="#000" stroke-width="0.7" />
<rect x="237.2" y="878.1" width="7.0" height="31.6" stroke="#000" stroke-width="1" fill="#fff" />
<line x1="239.6" y1="878.1" x2="239.6" y2="909.7" stroke="#000" stroke-width="0.8" />
<line x1="242.1" y1="878.1" x2="242.1" y2="909.7" stroke="#000" stroke-width="0.8" />
<line x1="237.2" y1="880.6" x2="244.2" y2="880.6" stroke="#000" stroke-width="0.7" />
<line x1="237.2" y1="906.9" x2="244.2" y2="906.9" stroke="#000" stroke-width="0.7" />
<line x1="244.2" y1="886.4" x2="251.0" y2="886.4" stroke="#000" stroke-width="0.9" />
<line x1="244.2" y1="900.8" x2="251.0" y2="900.8" stroke="#000" stroke-width="0.9" />
<path d="M256.6,878.7 L367.4,878.7 Q372.6,880 372.6,893.7 Q372.6,907.5 367.4,908.8 L256.6,908.8 Q250.4,907.5 250.4,893.7 Q250.4,880 256.6,878.7 Z" stroke="#000" stroke-width="1.1" fill="none" />
<line x1="372.4" y1="886.6" x2="378.5" y2="886.6" stroke="#000" stroke-width="0.9" />
<line x1="372.4" y1="901.0" x2="378.5" y2="901.0" stroke="#000" stroke-width="0.9" />
<line x1="372.4" y1="893.9" x2="379.0" y2="893.9" stroke="#777" stroke-width="0.6" />
<rect x="378.5" y="884.8" width="3.8" height="17.8" stroke="#000" stroke-width="1.1" fill="#fff" />
<rect x="377.1" y="877.2" width="6.6" height="7.6" rx="2.2" ry="2.2" fill="#111"/>
<rect x="377.1" y="902.6" width="6.6" height="7.9" rx="2.2" ry="2.2" fill="#111"/>
<rect x="385.7" y="884.8" width="3.8" height="17.8" stroke="#000" stroke-width="1.1" fill="#fff" />
<rect x="384.3" y="877.2" width="6.6" height="7.6" rx="2.2" ry="2.2" fill="#111"/>
<rect x="384.3" y="902.6" width="6.6" height="7.9" rx="2.2" ry="2.2" fill="#111"/>
<line x1="382.3" y1="886.6" x2="385.7" y2="886.6" stroke="#000" stroke-width="0.9" />
<line x1="382.3" y1="901.0" x2="385.7" y2="901.0" stroke="#000" stroke-width="0.9" />
<line x1="382.3" y1="893.9" x2="385.7" y2="893.9" stroke="#777" stroke-width="0.6" />
<line x1="389.5" y1="886.6" x2="406.7" y2="888.8" stroke="#000" stroke-width="0.9" />
<line x1="389.5" y1="901.0" x2="406.7" y2="898.2" stroke="#000" stroke-width="0.9" />
</g>
<g id="labels">
<path d="M623.5,283.1 L683.5,369.2 L793.3,369.2" stroke="#000" stroke-width="1.1" fill="none" />
<text transform="translate(692.5,361.0) scale(0.47,1)" font-family='"Liberation Serif", "Noto Serif CJK SC", serif' font-size="32" font-weight="500" text-anchor="start" fill="#000" >螺旋上料机</text>
<path d="M545.8,717.3 L668.4,599.1 L765.9,599.1" stroke="#000" stroke-width="1.1" fill="none" />
<text transform="translate(670.0,581.0) scale(0.47,1)" font-family='"Liberation Serif", "Noto Serif CJK SC", serif' font-size="32" font-weight="500" text-anchor="start" fill="#000" >手动检修阀</text>
<path d="M479.1,773.4 L617.9,803.5 L662.0,803.5" stroke="#000" stroke-width="1.1" fill="none" />
<text transform="translate(620.5,794.0) scale(0.47,1)" font-family='"Liberation Serif", "Noto Serif CJK SC", serif' font-size="32" font-weight="500" text-anchor="start" fill="#000" >软连接</text>
<path d="M523.7,905.7 L593.3,972.4 L644.7,972.4" stroke="#000" stroke-width="1.1" fill="none" />
<text transform="translate(596.0,960.5) scale(0.47,1)" font-family='"Liberation Serif", "Noto Serif CJK SC", serif' font-size="32" font-weight="500" text-anchor="start" fill="#000" >加速室</text>
<path d="M812.3,871.2 L881.7,937.8 L933.6,937.8" stroke="#000" stroke-width="1.1" fill="none" />
<text transform="translate(884.0,926.5) scale(0.47,1)" font-family='"Liberation Serif", "Noto Serif CJK SC", serif' font-size="32" font-weight="500" text-anchor="start" fill="#000" >耐磨弯管</text>
<path d="M155.6,745.9 L120.9,656.5 L59.1,656.5" stroke="#000" stroke-width="1.1" fill="none" />
<text transform="translate(61.0,643.0) scale(0.47,1)" font-family='"Liberation Serif", "Noto Serif CJK SC", serif' font-size="32" font-weight="500" text-anchor="start" fill="#000" >罗茨风机</text>
<path d="M438.3,839.3 L296.1,966.4 L150.9,966.4" stroke="#000" stroke-width="1.1" fill="none" />
<text transform="translate(185.0,961.5) scale(0.47,1)" font-family='"Liberation Serif", "Noto Serif CJK SC", serif' font-size="32" font-weight="500" text-anchor="start" fill="#000" >旋转供料器</text>
<text transform="translate(269.5,791.0) scale(0.47,1)" font-family='"Liberation Serif", "Noto Serif CJK SC", serif' font-size="32" font-weight="500" text-anchor="start" fill="#000" >配电柜</text>
</g>
</svg></body></html>
